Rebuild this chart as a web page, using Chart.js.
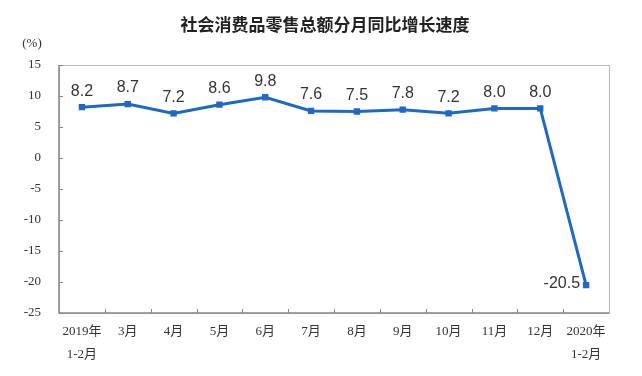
<!DOCTYPE html>
<html>
<head>
<meta charset="utf-8">
<script src="https://cdn.jsdelivr.net/npm/chart.js@4.4.0/dist/chart.umd.min.js"></script>
<style>
  html, body { margin: 0; padding: 0; background: #fff; }
  #wrap { width: 642px; height: 376px; position: relative; }
</style>
</head>
<body>
<div id="wrap"><canvas id="grafico" width="642" height="376"></canvas></div>
<script>
// Datos del gráfico
const titulo = '社会消费品零售总额分月同比增长速度';
const unidad = '(%)';
const meses = [['2019年', '1-2月'], '3月', '4月', '5月', '6月', '7月', '8月', '9月', '10月', '11月', '12月', ['2020年', '1-2月']];
const crecimiento = [8.2, 8.7, 7.2, 8.6, 9.8, 7.6, 7.5, 7.8, 7.2, 8.0, 8.0, -20.5];
const ticksY = [15, 10, 5, 0, -5, -10, -15, -20, -25];

const azul = '#1f68c6';
const serif = '"Liberation Serif", "Noto Sans CJK SC", serif';
const sans = '"Liberation Sans", Arial, sans-serif';

// Título, marco, marcas internas y etiquetas de valores
const extras = {
    id: 'extras',
    beforeDatasetsDraw(chart) {
        const ctx = chart.ctx;
        const a = chart.chartArea;
        const x = chart.scales.x;
        const y = chart.scales.y;
        ctx.save();
        ctx.strokeStyle = '#b8b8b8';
        ctx.lineWidth = 1;
        ctx.strokeRect(a.left + 0.5, a.top + 0.5, a.right - a.left, a.bottom - a.top);
        ctx.strokeStyle = '#888';
        ctx.lineWidth = 1.5;
        ctx.beginPath();
        ctx.moveTo(a.left, a.top);
        ctx.lineTo(a.left, a.bottom);
        ctx.lineTo(a.right, a.bottom);
        ctx.stroke();
        ctx.lineWidth = 1;
        ctx.beginPath();
        ticksY.forEach(v => {
            const py = Math.round(y.getPixelForValue(v)) + 0.5;
            ctx.moveTo(a.left, py);
            ctx.lineTo(a.left + 4, py);
        });
        for (let i = 1; i < meses.length; i++) {
            const px = Math.round((x.getPixelForValue(i - 1) + x.getPixelForValue(i)) / 2) + 0.5;
            ctx.moveTo(px, a.bottom);
            ctx.lineTo(px, a.bottom - 4);
        }
        ctx.stroke();
        ctx.restore();
    },
    afterDraw(chart) {
        const ctx = chart.ctx;
        const meta = chart.getDatasetMeta(0);
        ctx.save();
        ctx.fillStyle = '#222';
        ctx.font = 'bold 17px "Noto Sans CJK SC", sans-serif';
        ctx.textAlign = 'center';
        ctx.textBaseline = 'middle';
        ctx.fillText(titulo, 325, 25);
        ctx.font = '13px ' + serif;
        ctx.fillStyle = '#333';
        ctx.fillText(unidad, 32, 44);

        ctx.font = '16px ' + sans;
        ctx.fillStyle = '#333';
        meta.data.forEach((p, i) => {
            const txt = crecimiento[i].toFixed(1);
            if (crecimiento[i] < 0) {
                ctx.textAlign = 'right';
                ctx.fillText(txt, p.x - 6, p.y - 2);
            } else {
                ctx.textAlign = 'center';
                ctx.fillText(txt, p.x, p.y - 16);
            }
        });
        ctx.restore();
    }
};

const ctx = document.getElementById('grafico').getContext('2d');
window.graficoVentas = new Chart(ctx, {
    type: 'line',
    data: {
        labels: meses,
        datasets: [{
            label: titulo,
            data: crecimiento,
            borderColor: azul,
            backgroundColor: azul,
            borderWidth: 3,
            pointStyle: 'rect',
            pointRadius: 4.5,
            pointBorderWidth: 0,
            tension: 0
        }]
    },
    options: {
        responsive: false,
        animation: false,
        layout: { padding: { top: 65, right: 33, left: 0, bottom: 0 } },
        plugins: {
            legend: { display: false },
            title: { display: false },
            tooltip: { enabled: false }
        },
        scales: {
            x: {
                offset: true,
                grid: { display: false },
                border: { display: false },
                afterFit: s => { s.height = 63; },
                ticks: {
                    color: '#333',
                    font: { family: serif, size: 13, lineHeight: 1.7 },
                    maxRotation: 0,
                    autoSkip: false,
                    padding: 0
                }
            },
            y: {
                min: -25,
                max: 15,
                grid: { display: false },
                border: { display: false },
                afterFit: s => { s.width = 59; },
                ticks: {
                    stepSize: 5,
                    color: '#333',
                    font: { family: serif, size: 13 },
                    padding: 10
                }
            }
        }
    },
    plugins: [extras]
});
</script>
</body>
</html>
